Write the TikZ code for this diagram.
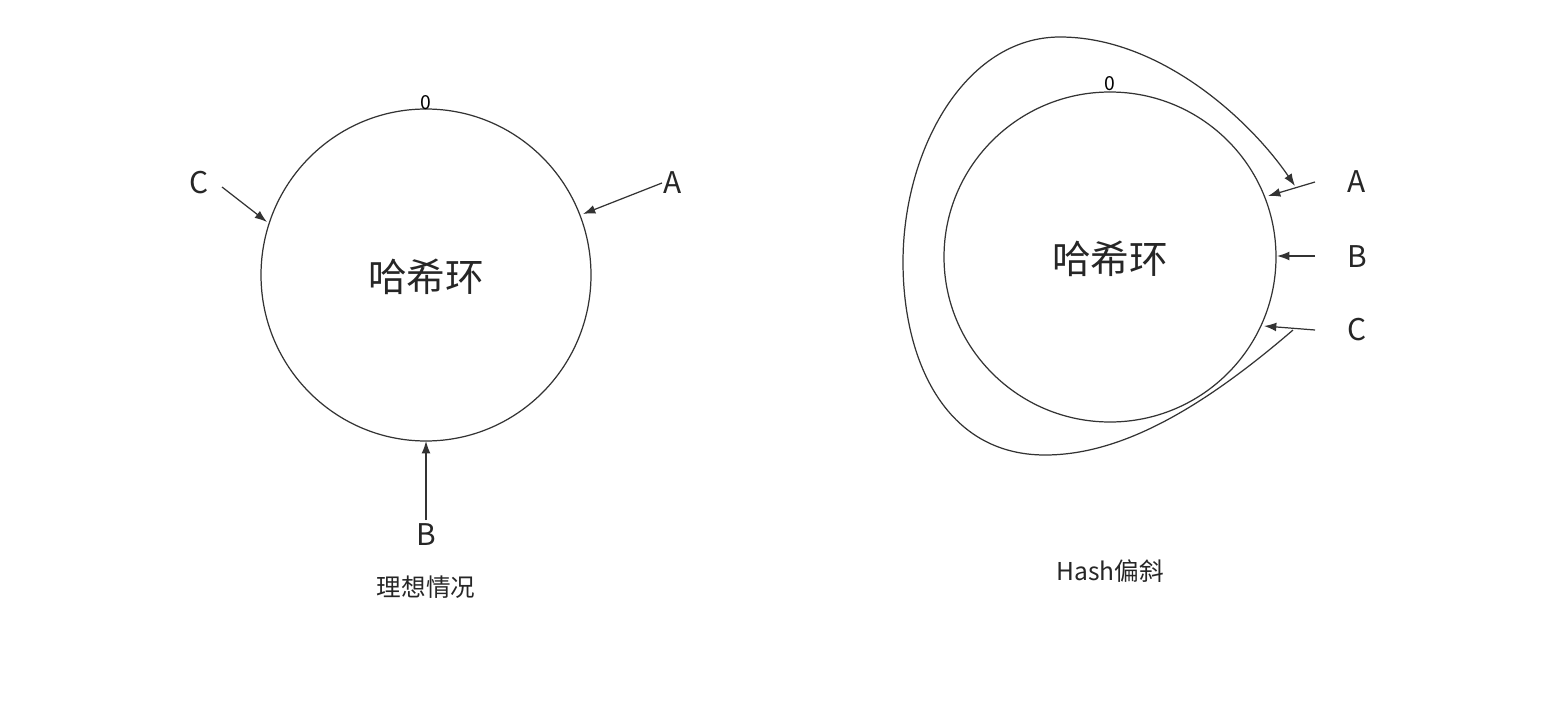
\documentclass[tikz,border=0pt]{standalone}
\usepackage{fontspec}
\setmainfont{Noto Sans CJK SC}
\usetikzlibrary{arrows.meta,shapes.geometric}
\begin{document}
\begin{tikzpicture}[x=0.02cm,y=-0.02cm,
  ln/.style={draw=black!80,line width=0.7pt},
  arr/.style={ln,-{Latex[length=7pt,width=5pt]}},
  lab/.style={font=\fontsize{17}{17}\selectfont,text=black!85,inner sep=0},
  captxt/.style={font=\fontsize{14}{14}\selectfont,text=black!85,inner sep=0}]
\useasboundingbox (0,0) rectangle (1567,716);
% left
\node[ln,ellipse,minimum width=330*0.02cm,minimum height=332*0.02cm,inner sep=0] (r1) at (426,275) {};
\node[font=\fontsize{22}{22}\selectfont,text=black!85] (t1) at (426,277) {哈希环};
\node[font=\fontsize{11}{11}\selectfont,inner sep=0] (z1) at (426,103) {0};
\node[lab] (A1) at (673,183) {A};
\coordinate (a1s) at (662,183);
\coordinate (a1e) at (583,214);
\draw[arr] (a1s) -- (a1e);
\node[lab] (C1) at (199,183) {C};
\coordinate (c1s) at (222,187);
\coordinate (c1e) at (267,222);
\draw[arr] (c1s) -- (c1e);
\node[lab] (B1) at (426,535) {B};
\coordinate (b1s) at (426,520);
\coordinate (b1e) at (426,441);
\draw[arr] (b1s) -- (b1e);
\node[captxt] (L1) at (426,587) {理想情况};
% right
\node[ln,ellipse,minimum width=332*0.02cm,minimum height=330*0.02cm,inner sep=0] (r2) at (1110,257) {};
\node[font=\fontsize{22}{22}\selectfont,text=black!85] (t2) at (1110,259) {哈希环};
\node[font=\fontsize{11}{11}\selectfont,inner sep=0] (z2) at (1110,84) {0};
\node[lab] (A2) at (1357,182) {A};
\node[lab] (B2) at (1357,257) {B};
\node[lab] (C2) at (1357,330) {C};
\coordinate (a2s) at (1315,182);
\coordinate (a2e) at (1268,196);
\coordinate (b2s) at (1315,256);
\coordinate (b2e) at (1277,256);
\coordinate (c2s) at (1315,330);
\coordinate (c2e) at (1264,326);
\draw[arr] (a2s) -- (a2e);
\draw[arr] (b2s) -- (b2e);
\draw[arr] (c2s) -- (c2e);
\coordinate (ls) at (1293,330);
\coordinate (le) at (1295,186);
\draw[arr] (ls) .. controls (1200,410) and (1120,455) .. (1045,455)
  .. controls (945,455) and (903,360) .. (903,262)
  .. controls (903,150) and (965,37) .. (1060,37)
  .. controls (1160,37) and (1250,120) .. (le);
\node[captxt] (L2) at (1110,571) {Hash偏斜};
\end{tikzpicture}
\end{document}
